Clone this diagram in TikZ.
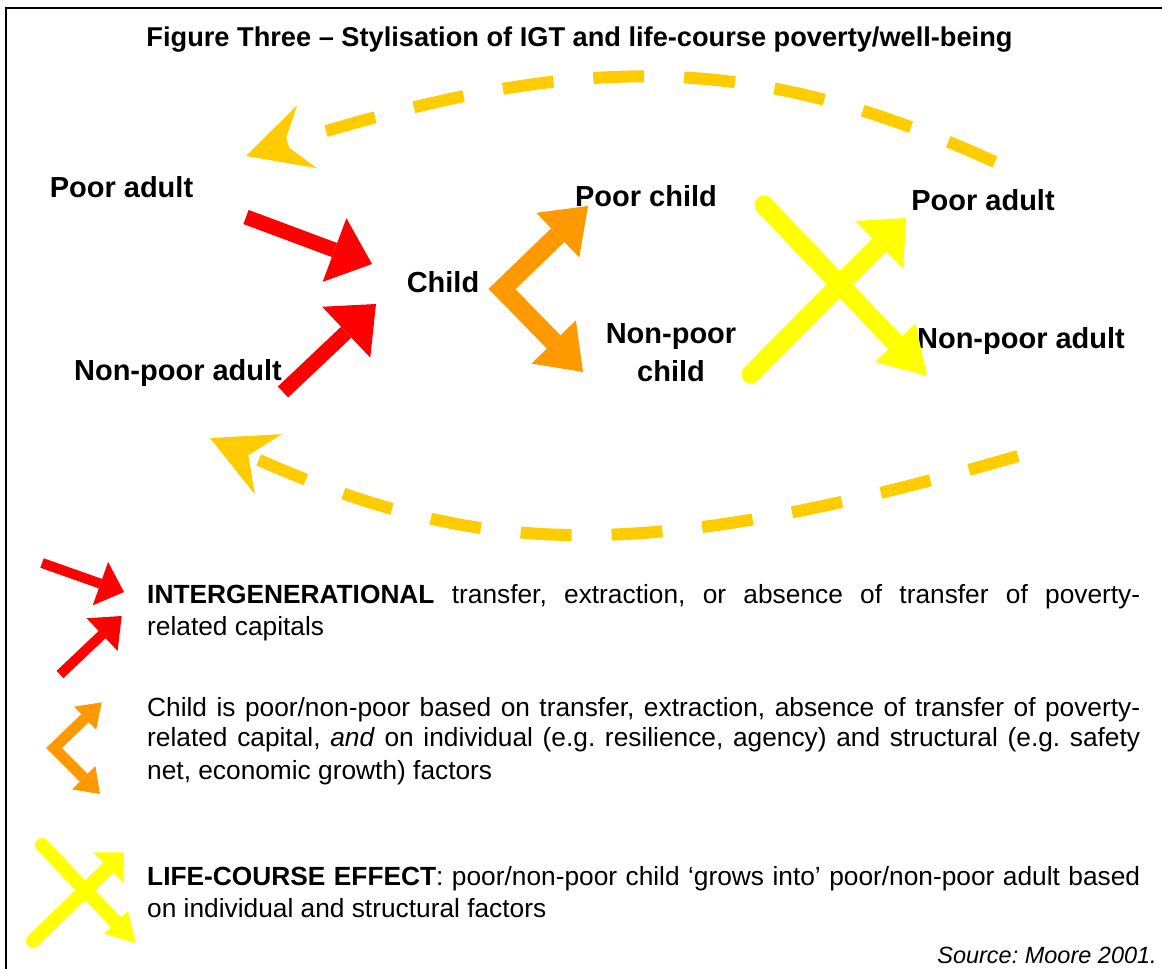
\documentclass[tikz,border=0pt]{standalone}
\usepackage{fontspec}
\setmainfont{Liberation Sans}
\usetikzlibrary{arrows.meta}
\definecolor{cred}{HTML}{FF0000}
\definecolor{corange}{HTML}{FF9900}
\definecolor{cyellow}{HTML}{FFFF00}
\definecolor{cgold}{HTML}{FFCC00}
\frenchspacing
\begin{document}
\begin{tikzpicture}[x=1pt,y=-1pt,
  lbl/.style={font=\fontsize{29}{38}\selectfont\bfseries, inner sep=0pt, anchor=base, align=center},
  leg/.style={font=\fontsize{26.3}{32}\selectfont, inner sep=0pt, anchor=base west},
  redarr/.style={draw=cred, line width=#1},
  orarr/.style={draw=corange, line width=#1, line join=miter},
  yelarr/.style={draw=cyellow, line width=#1, line cap=round},
  dasharc/.style={draw=cgold, line width=12pt, dash pattern=on 51pt off 40pt}]
\useasboundingbox (0,0) rectangle (1162,969);
% frame
\draw[line width=2.5pt] (6,975) -- (6,8) -- (1170,8);
% title
\node[font=\fontsize{27.2}{31}\selectfont\bfseries, inner sep=0pt, anchor=base] (title) at (579.5,46)
  {Figure Three – Stylisation of IGT and life-course poverty/well-being};
% labels
\node[lbl] (pal) at (121.5,197) {Poor adult};
\node[lbl] (npal) at (178,380) {Non-poor adult};
\node[lbl] (child) at (443,292) {Child};
\node[lbl] (pc) at (646,206) {Poor child};
\node[lbl] (npc) at (671,381) {Non-poor\\child};
\node[lbl] (par) at (983,210) {Poor adult};
\node[lbl] (npar) at (1021,348) {Non-poor adult};
% coordinates of the arrows
\coordinate (r1s) at (246,217); \coordinate (r1e) at (372,264);
\coordinate (r2s) at (283,392); \coordinate (r2e) at (376,304);
\coordinate (ou) at (588,206); \coordinate (oc) at (502,289); \coordinate (ol) at (583,372);
\coordinate (y1s) at (764,205); \coordinate (y1e) at (927,376);
\coordinate (y2s) at (751,374); \coordinate (y2e) at (906,218);
\coordinate (ts) at (995,162); \coordinate (te) at (246,156);
\coordinate (bs) at (1018,456); \coordinate (be) at (210,438);
% dashed loops
\draw[dasharc, -{Stealth[length=64pt,width=66pt,inset=24pt,line width=0pt]}]
  (ts) .. controls (751,51) and (579,51) .. (te);
\draw[dasharc, -{Stealth[length=64pt,width=66pt,inset=22pt,line width=0pt]}]
  (bs) .. controls (632,568) and (470,555) .. (be);
% red arrows
\draw[redarr=15pt, -{Triangle[length=40pt,width=68pt,line width=0pt]}] (r1s) -- (r1e);
\draw[redarr=15pt, -{Triangle[length=41pt,width=70pt,line width=0pt]}] (r2s) -- (r2e);
% orange arrow
\draw[orarr=19pt, {Triangle[length=42pt,width=62pt,line width=0pt]}-{Triangle[length=42pt,width=62pt,line width=0pt]}] (ou) -- (oc) -- (ol);
% yellow arrows
\draw[yelarr=19pt, -{Triangle[length=46pt,width=56pt,line width=0pt]}] (y1s) -- (y1e);
\draw[yelarr=19pt, -{Triangle[length=38pt,width=68pt,line width=0pt]}] (y2s) -- (y2e);
% legend symbols
\coordinate (lr1s) at (42,563); \coordinate (lr1e) at (124,592);
\coordinate (lr2s) at (60,674.5); \coordinate (lr2e) at (121.7,616);
\coordinate (lou) at (101.7,702.3); \coordinate (loc) at (54,748); \coordinate (lol) at (100,794);
\coordinate (ly1s) at (42,845); \coordinate (ly1e) at (136,943.3);
\coordinate (ly2s) at (33,941); \coordinate (ly2e) at (124,852.3);
\draw[redarr=10pt, -{Triangle[length=25pt,width=46pt,line width=0pt]}] (lr1s) -- (lr1e);
\draw[redarr=10pt, -{Triangle[length=27pt,width=45pt,line width=0pt]}] (lr2s) -- (lr2e);
\draw[orarr=11pt, {Triangle[length=23pt,width=32pt,line width=0pt]}-{Triangle[length=23pt,width=33pt,line width=0pt]}] (lou) -- (loc) -- (lol);
\draw[yelarr=14pt, -{Triangle[length=29pt,width=33pt,line width=0pt]}] (ly1s) -- (ly1e);
\draw[yelarr=14pt, -{Triangle[length=22pt,width=43pt,line width=0pt]}] (ly2s) -- (ly2e);
% legend texts
\node[leg] (l1a) at (147,603) {\makebox[993pt][s]{\textbf{INTERGENERATIONAL} transfer, extraction, or absence of transfer of poverty-}};
\node[leg] (l1b) at (147,635) {related capitals};
\node[leg] (l2a) at (147,716) {\makebox[993pt][s]{Child is poor/non-poor based on transfer, extraction, absence of transfer of poverty-}};
\node[leg] (l2b) at (147,746) {\makebox[993pt][s]{related capital, \textit{and} on individual (e.g. resilience, agency) and structural (e.g. safety}};
\node[leg] (l2c) at (147,779) {net, economic growth) factors};
\node[leg] (l3a) at (147,885) {\makebox[993pt][s]{\textbf{LIFE-COURSE EFFECT}: poor/non-poor child ‘grows into’ poor/non-poor adult based}};
\node[leg] (l3b) at (147,917) {on individual and structural factors};
% source
\node[font=\fontsize{23.5}{28}\selectfont\itshape, inner sep=0pt, anchor=base east] (src) at (1157,963) {Source: Moore 2001.};
\end{tikzpicture}
\end{document}
